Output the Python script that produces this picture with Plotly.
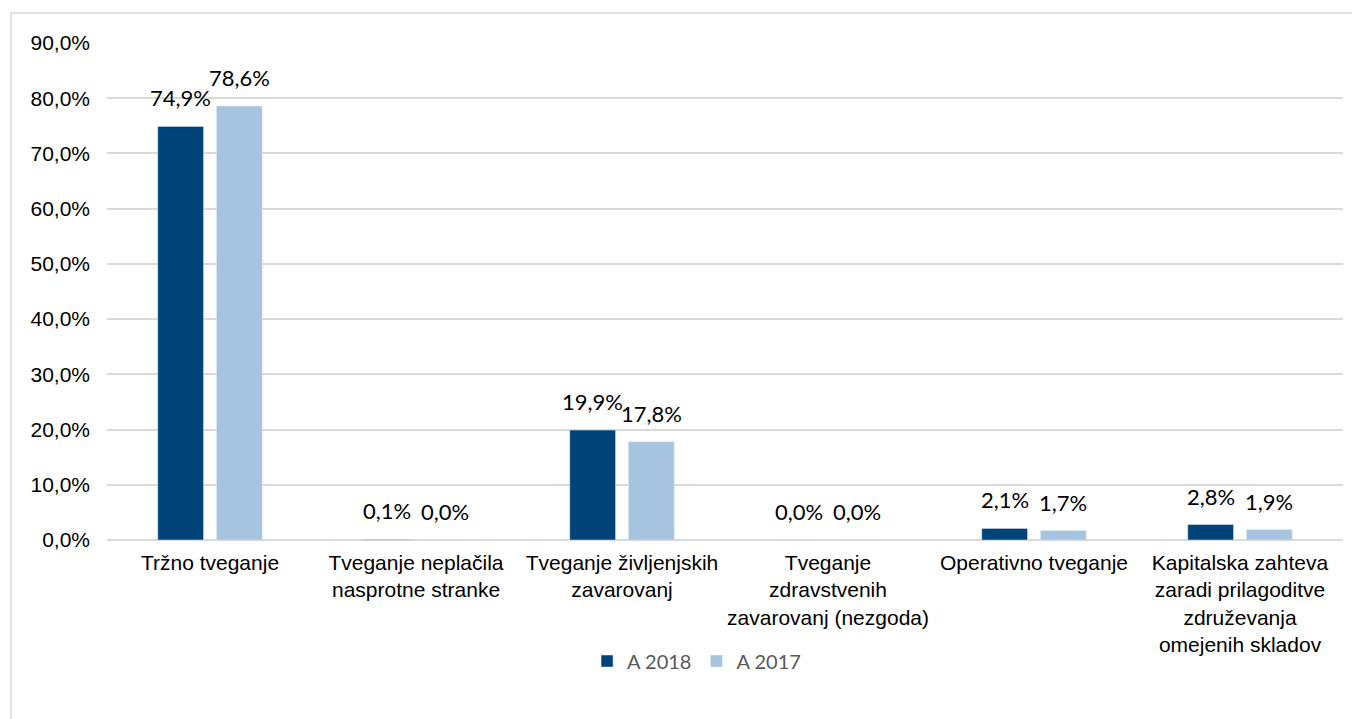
import plotly.graph_objects as go

categories = [
    "Tržno tveganje",
    "Tveganje neplačila<br>nasprotne stranke",
    "Tveganje življenjskih<br>zavarovanj",
    "Tveganje<br>zdravstvenih<br>zavarovanj (nezgoda)",
    "Operativno tveganje",
    "Kapitalska zahteva<br>zaradi prilagoditve<br>združevanja<br>omejenih skladov",
]
a2018 = [74.9, 0.1, 19.9, 0.0, 2.1, 2.8]
a2017 = [78.6, 0.0, 17.8, 0.0, 1.7, 1.9]
yticks = [0, 10, 20, 30, 40, 50, 60, 70, 80, 90]
yticktext = [f"{v:.1f}%".replace(".", ",") for v in yticks]

label_font = dict(family="Lato, Carlito, sans-serif", size=22, color="#000000")
axis_font = dict(family="Liberation Sans, Arial, sans-serif", size=21, color="#000000")

fig = go.Figure()
fig.add_trace(go.Bar(x=categories, y=a2018, name="A 2018", marker_color="#004379"))
fig.add_trace(go.Bar(x=categories, y=a2017, name="A 2017", marker_color="#A6C4E0"))

# data labels above each bar (half a bar slot left / right of category centre)
slot = 1236 / 6 * (1 - 0.43) / 2
for vals, shift in [(a2018, -slot / 2), (a2017, slot / 2)]:
    for cat, v in zip(categories, vals):
        fig.add_annotation(x=cat, y=v, text=f"{v:.1f}%".replace(".", ","),
                           showarrow=False, xshift=shift, yshift=13,
                           yanchor="bottom", font=label_font)

# outer chart border
fig.add_shape(type="rect", xref="paper", yref="paper",
              x0=(3 - 99) / 1236, x1=(1365 - 99) / 1236,
              y0=-0.5, y1=(532 - 5) / 497,
              line=dict(color="#D9D9D9", width=1.5), layer="below")

fig.update_layout(
    width=1352, height=711,
    margin=dict(l=99, r=17, t=35, b=179),
    paper_bgcolor="white", plot_bgcolor="white",
    barmode="group", bargap=0.43, bargroupgap=0.22,
    font=axis_font,
    showlegend=True,
    legend=dict(orientation="h", x=0.477, xanchor="center", y=-0.2435, yanchor="middle",
                font=dict(family="Lato, Carlito, sans-serif", size=20, color="#595959"),
                itemclick=False, traceorder="normal"),
)
fig.update_xaxes(showgrid=False, showline=False, ticks="", tickangle=0,
                 ticklabelstandoff=8, tickfont=axis_font)
fig.update_yaxes(range=[0, 90], tickvals=yticks, ticktext=yticktext,
                 showgrid=True, gridcolor="#D9D9D9", gridwidth=1.5,
                 zeroline=True, zerolinecolor="#D9D9D9", zerolinewidth=1.5,
                 showline=False, ticks="", ticklabelstandoff=16,
                 tickfont=axis_font)

fig.write_html("out.html")
